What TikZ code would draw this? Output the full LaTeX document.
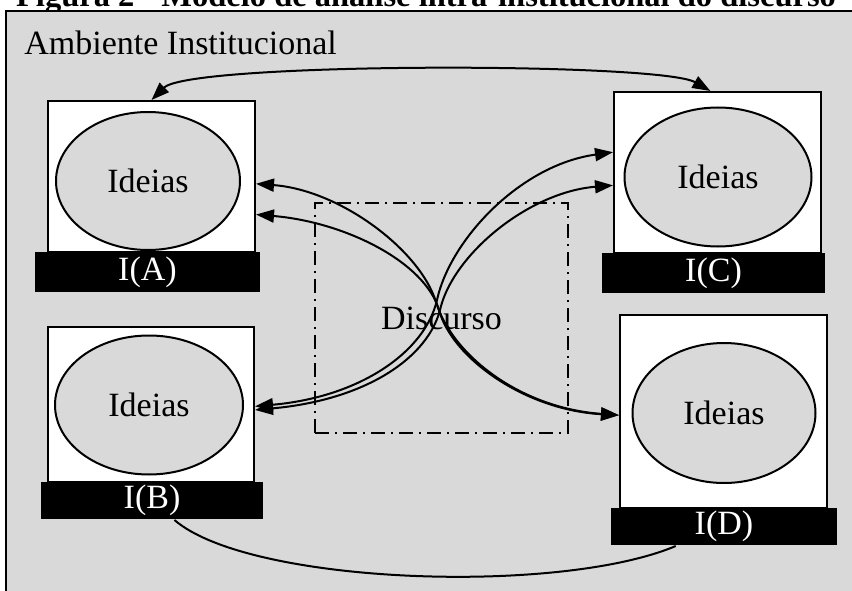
\documentclass[tikz,border=0pt]{standalone}
\usepackage{fontspec}
\setmainfont{Liberation Serif}
\usepackage{xcolor}
\usepackage{tikz}
\usetikzlibrary{arrows.meta,shapes.geometric}
\definecolor{bggray}{RGB}{217,217,217}

\begin{document}
\begin{tikzpicture}[x=1pt, y=-1pt, line width=2pt,
  font=\fontsize{34}{40}\selectfont,
  >={Triangle[length=18pt,width=13pt]},
  inst/.style={draw, fill=white, inner sep=0pt},
  idea/.style={draw, ellipse, fill=bggray, inner sep=0pt},
  tag/.style={fill=black, text=white, inner sep=0pt},
  discbox/.style={draw, line width=1.5pt, dash pattern=on 14pt off 6pt on 2pt off 6pt, inner sep=0pt},
  link/.style={<->, line width=2pt}]
  \path[use as bounding box] (0,0) rectangle (852,591);
  \clip (0,0) rectangle (852,591);
  % caption, cut by the top edge, and the gray environment
  \node[anchor=base, font=\fontsize{32.5}{40}\selectfont\bfseries] (title) at (426,7)
    {Figura 2 - Modelo de análise intra-institucional do discurso};
  \draw[fill=bggray, line width=2.5pt] (6,11) rectangle (880,620);
  \node[anchor=base west] (env) at (20,55) {Ambiente Institucional};
  % the four institutions
  \node[inst, minimum width=207, minimum height=151] (boxA) at (151.5,176.5) {};
  \node[idea, minimum width=184, minimum height=138] (ideaA) at (148,181) {Ideias};
  \node[tag, minimum width=225, minimum height=40] (tagA) at (147.5,272) {I(A)};
  \node[inst, minimum width=207, minimum height=161] (boxC) at (717.5,172.5) {};
  \node[idea, minimum width=187, minimum height=139] (ideaC) at (718,177) {Ideias};
  \node[tag, minimum width=223, minimum height=40] (tagC) at (713.5,273) {I(C)};
  \node[inst, minimum width=206, minimum height=155] (boxB) at (151,404.5) {};
  \node[idea, minimum width=188, minimum height=139] (ideaB) at (149,405) {Ideias};
  \node[tag, minimum width=222, minimum height=37] (tagB) at (152,500.5) {I(B)};
  \node[inst, minimum width=207, minimum height=193] (boxD) at (723.5,411.5) {};
  \node[idea, minimum width=183, minimum height=140] (ideaD) at (724,413) {Ideias};
  \node[tag, minimum width=226, minimum height=37] (tagD) at (724,526.5) {I(D)};
  % discourse in the middle
  \node[discbox, minimum width=253, minimum height=230] (disc) at (441.5,318) {Discurso};
  % crossing links through the discourse
  \draw[link] (boxA.-4) .. controls (340,190) and (420,250) .. (436,302)
    .. controls (452,355) and (520,408) .. (boxD.182);
  \draw[link] (boxA.-20) .. controls (345,222) and (425,262) .. (439,310)
    .. controls (452,358) and (525,410) .. (boxD.182);
  \draw[link] (boxB.-1) .. controls (360,397) and (425,352) .. (437,300)
    .. controls (450,240) and (520,165) .. (boxC.169);
  \draw[link] (boxB.-3) .. controls (365,400) and (430,358) .. (441,306)
    .. controls (456,252) and (530,192) .. (boxC.187);
  % outer links
  \draw[link] (boxA.north) .. controls (190,62) and (660,62) .. (boxC.95);
  \draw (tagB.-41) .. controls (250,585) and (560,595) .. (tagD.202);
\end{tikzpicture}
\end{document}
